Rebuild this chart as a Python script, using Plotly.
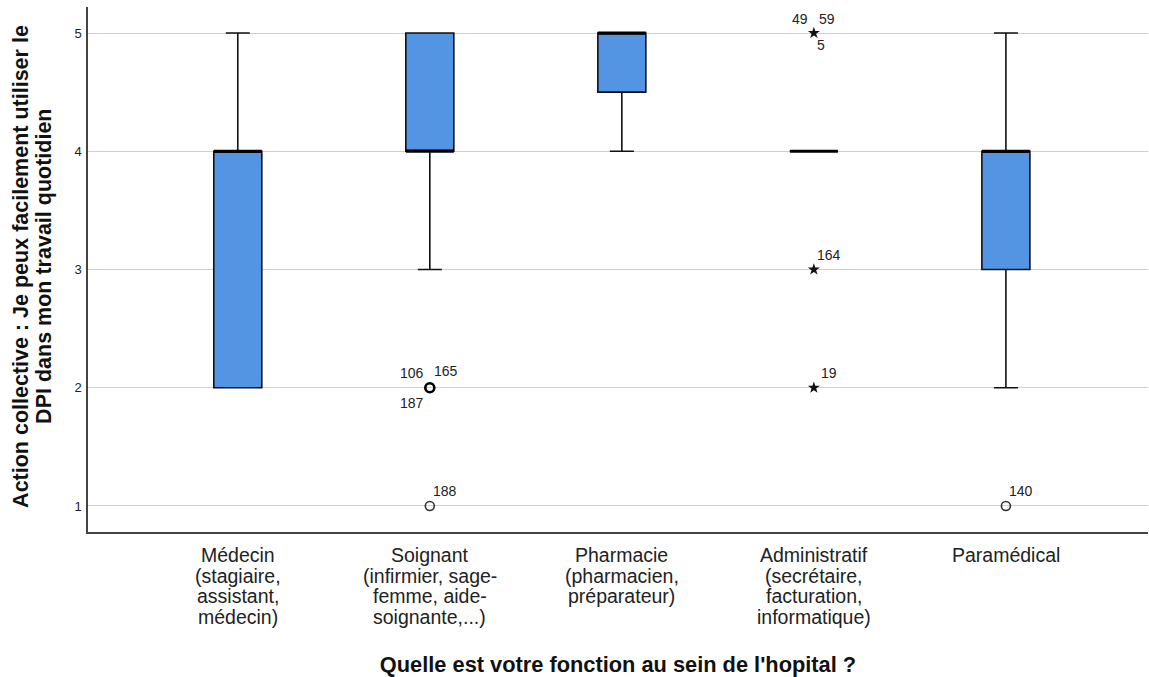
import plotly.graph_objects as go

# Categories (x, one entry per line of the label) and box statistics
categories = [
    ["Médecin", "(stagiaire,", "assistant,", "médecin)"],
    ["Soignant", "(infirmier, sage-", "femme, aide-", "soignante,...)"],
    ["Pharmacie", "(pharmacien,", "préparateur)"],
    ["Administratif", "(secrétaire,", "facturation,", "informatique)"],
    ["Paramédical"],
]
q1 = [2, 4, 4.5, 4, 3]
median = [4, 4, 5, 4, 4]
q3 = [4, 5, 5, 4, 4]
lower_whisker = [2, 3, 4, 4, 2]
upper_whisker = [5, 5, 5, 4, 5]

# Outliers (circles) and extremes (stars): category index, value, case labels
outlier_cat = [1, 1, 4]
outlier_val = [2, 1, 1]
outlier_ids = [["106", "165", "187"], ["188"], ["140"]]

extreme_cat = [3, 3, 3]
extreme_val = [5, 3, 2]
extreme_ids = [["49", "59", "5"], ["164"], ["19"]]

y_ticks = [1, 2, 3, 4, 5]
y_title_lines = [
    "Action collective : Je peux facilement utiliser le",
    "DPI dans mon travail quotidien",
]
x_title = "Quelle est votre fonction au sein de l'hopital ?"

FONT = "Arial, Liberation Sans, sans-serif"
BOX_W = 0.25
xs = list(range(len(categories)))

fig = go.Figure()

fig.add_trace(go.Box(
    x=xs, q1=q1, median=median, q3=q3,
    lowerfence=lower_whisker, upperfence=upper_whisker,
    width=BOX_W, whiskerwidth=0.5,
    fillcolor="#5394E3",
    line=dict(color="#111111", width=1.6),
    boxpoints=False, hoverinfo="skip", showlegend=False,
))

# Thick median bars
mx, my = [], []
for i, m in zip(xs, median):
    mx += [i - BOX_W / 2, i + BOX_W / 2, None]
    my += [m, m, None]
fig.add_trace(go.Scatter(
    x=mx, y=my, mode="lines", line=dict(color="#000000", width=3),
    hoverinfo="skip", showlegend=False,
))

# Outliers
fig.add_trace(go.Scatter(
    x=outlier_cat, y=outlier_val, mode="markers",
    marker=dict(symbol="circle-open", size=9, color="#333333", line=dict(width=1.6)),
    hoverinfo="skip", showlegend=False,
))
# Repeated cases drawn heavier
fig.add_trace(go.Scatter(
    x=[c for c, ids in zip(outlier_cat, outlier_ids) if len(ids) > 1],
    y=[v for v, ids in zip(outlier_val, outlier_ids) if len(ids) > 1],
    mode="markers",
    marker=dict(symbol="circle-open", size=9, color="#000000", line=dict(width=2.6)),
    hoverinfo="skip", showlegend=False,
))

# Extremes
fig.add_trace(go.Scatter(
    x=extreme_cat, y=extreme_val, mode="markers",
    marker=dict(symbol="star", size=9, color="#111111", line=dict(width=0)),
    hoverinfo="skip", showlegend=False,
))

# Case labels around each point
single_offset = (15, 15)


def add_labels(cats, vals, ids_list, multi_offsets):
    for c, v, ids in zip(cats, vals, ids_list):
        pos = [single_offset] if len(ids) == 1 else multi_offsets
        for lab, (dx, dy) in zip(ids, pos):
            fig.add_annotation(
                x=c, y=v, text=lab, showarrow=False,
                xshift=dx, yshift=dy,
                font=dict(family=FONT, size=14, color="#222222"),
            )


add_labels(outlier_cat, outlier_val, outlier_ids, [(-18, 15), (16, 17), (-18, -15)])
add_labels(extreme_cat, extreme_val, extreme_ids, [(-14, 14), (13, 14), (7, -12)])

# Category labels, one line at a time for tight line spacing
LINE_H = 20.5
for i, lines in zip(xs, categories):
    for k, line in enumerate(lines):
        fig.add_annotation(
            x=i, xref="x", y=0, yref="paper",
            yanchor="middle", yshift=-23 - k * LINE_H,
            text=line, showarrow=False,
            font=dict(family=FONT, size=19.5, color="#222222"),
        )

# Vertical axis title, two tightly spaced rotated lines
for k, line in enumerate(y_title_lines):
    fig.add_annotation(
        x=0, xref="paper", y=0.505, yref="paper",
        xanchor="center", yanchor="middle",
        xshift=-67 + k * 23, textangle=-90,
        text=f"<b>{line}</b>", showarrow=False,
        font=dict(family=FONT, size=21.5, color="#111111"),
    )

fig.update_layout(
    width=1149, height=677,
    margin=dict(l=88, r=1, t=7, b=145),
    paper_bgcolor="white", plot_bgcolor="white",
    font=dict(family=FONT, color="#222222"),
    xaxis=dict(
        range=[-0.78, 4.74],
        tickmode="array", tickvals=xs,
        showticklabels=False,
        showgrid=False, zeroline=False,
        showline=True, linecolor="#444444", linewidth=1.5,
        ticks="",
        title=dict(
            text=f"<b>{x_title}</b>",
            font=dict(size=21.8, color="#111111"), standoff=124,
        ),
    ),
    yaxis=dict(
        range=[0.78, 5.22],
        tickmode="array", tickvals=y_ticks,
        tickfont=dict(size=13, color="#222222"),
        showgrid=True, gridcolor="#D0D0D0", gridwidth=1.3,
        zeroline=False,
        showline=True, linecolor="#444444", linewidth=1.5,
        ticks="", ticklabelstandoff=2,
    ),
)

fig.write_html("out.html")
